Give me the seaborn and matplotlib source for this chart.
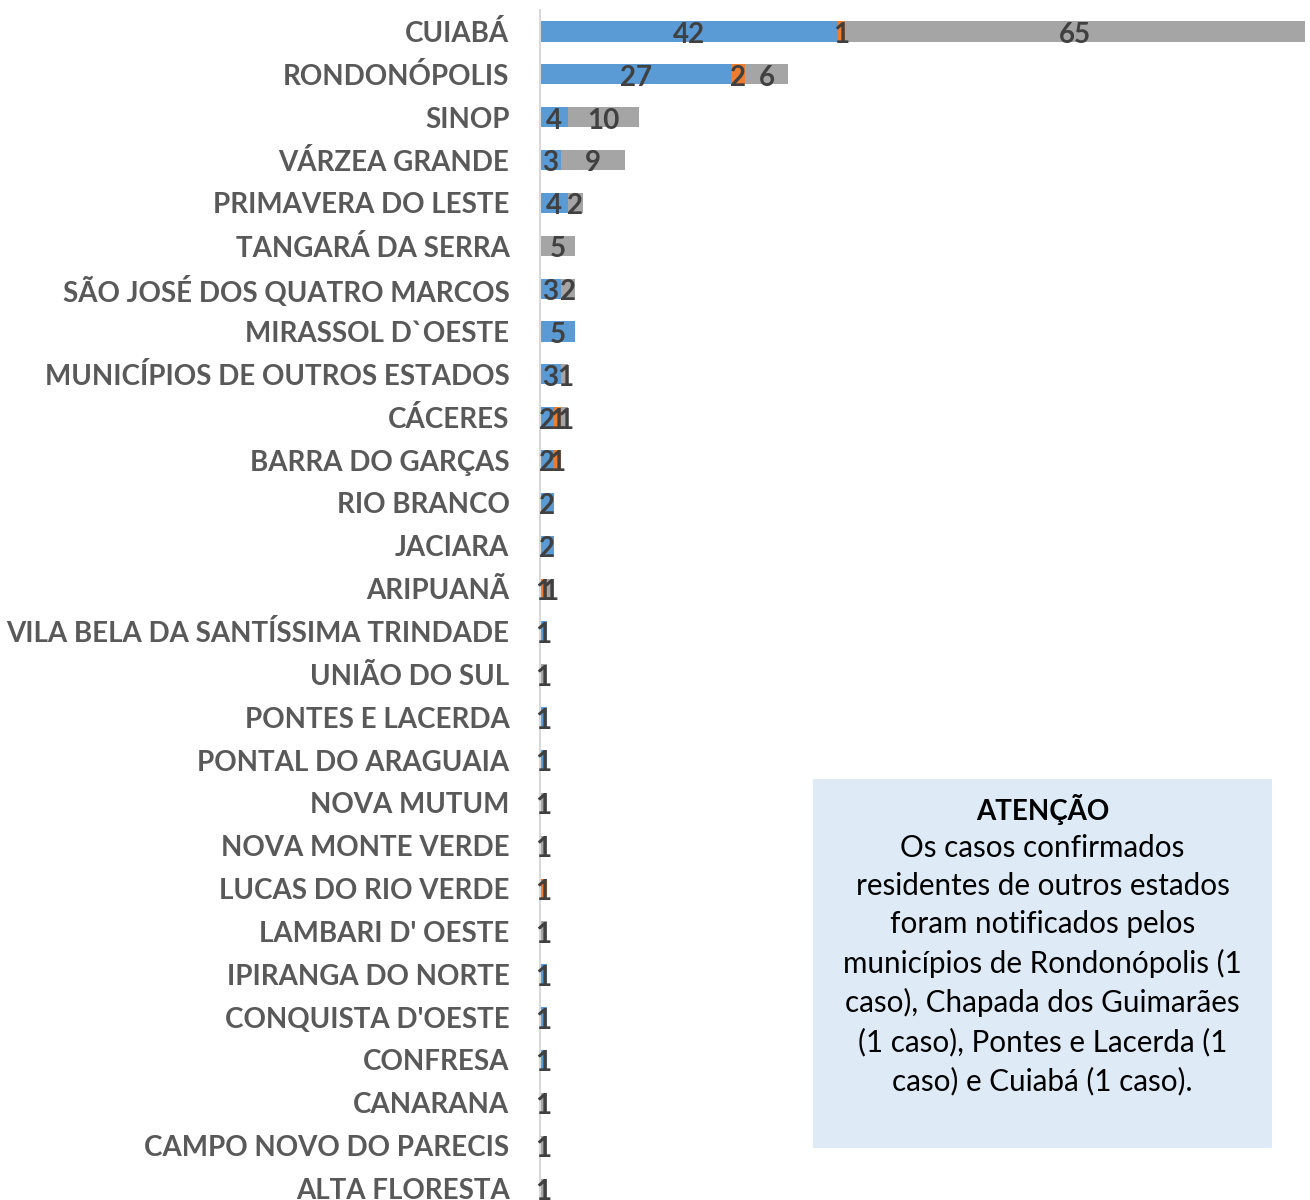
import numpy as np
import pandas as pd
import matplotlib
matplotlib.use("Agg")
import matplotlib.pyplot as plt
import seaborn as sns

municipios = [
    "CUIABÁ", "RONDONÓPOLIS", "SINOP", "VÁRZEA GRANDE", "PRIMAVERA DO LESTE",
    "TANGARÁ DA SERRA", "SÃO JOSÉ DOS QUATRO MARCOS", "MIRASSOL D`OESTE",
    "MUNICÍPIOS DE OUTROS ESTADOS", "CÁCERES", "BARRA DO GARÇAS", "RIO BRANCO",
    "JACIARA", "ARIPUANÃ", "VILA BELA DA SANTÍSSIMA TRINDADE", "UNIÃO DO SUL",
    "PONTES E LACERDA", "PONTAL DO ARAGUAIA", "NOVA MUTUM", "NOVA MONTE VERDE",
    "LUCAS DO RIO VERDE", "LAMBARI D' OESTE", "IPIRANGA DO NORTE",
    "CONQUISTA D'OESTE", "CONFRESA", "CANARANA", "CAMPO NOVO DO PARECIS",
    "ALTA FLORESTA",
]
azul = [42, 27, 4, 3, 4, 0, 3, 5, 3, 2, 2, 2, 2, 0, 1, 0, 1, 1, 0, 0, 0, 0, 1, 1, 1, 0, 0, 0]
laranja = [1, 2, 0, 0, 0, 0, 0, 0, 0, 1, 1, 0, 0, 1, 0, 0, 0, 0, 0, 0, 1, 0, 0, 0, 0, 0, 0, 0]
cinza = [65, 6, 10, 9, 2, 5, 2, 0, 1, 1, 0, 0, 0, 1, 0, 1, 0, 0, 1, 1, 0, 1, 0, 0, 0, 1, 1, 1]

nota_titulo = "ATENÇÃO"
nota_texto = ("Os casos confirmados\nresidentes de outros estados\nforam notificados pelos\n"
              "municípios de Rondonópolis (1\ncaso), Chapada dos Guimarães\n"
              "(1 caso), Pontes e Lacerda (1\ncaso) e Cuiabá (1 caso).")

cores = ["#5B9BD5", "#ED7D31", "#A5A5A5"]

sns.set_theme(style="white")
plt.rcParams["font.family"] = ["Lato", "DejaVu Sans"]

df = pd.DataFrame({"municipio": municipios, "azul": azul, "laranja": laranja, "cinza": cinza})
df["base_laranja"] = df["azul"]
df["base_cinza"] = df["azul"] + df["laranja"]

fig = plt.figure(figsize=(13.1, 12), dpi=100)
ax = fig.add_axes([540 / 1310, -10 / 1200, (1305 - 540) / 1310, 1200 / 1200])

series = [("azul", None), ("laranja", "base_laranja"), ("cinza", "base_cinza")]
for (col, base), cor in zip(series, cores):
    kw = {} if base is None else {"left": df[base].to_numpy()}
    sns.barplot(data=df, x=col, y="municipio", order=municipios, color=cor,
                width=0.47, orient="h", ax=ax, saturation=1, linewidth=0, **kw)

for cont, col in zip(ax.containers, ["azul", "laranja", "cinza"]):
    rotulos = [str(v) if v > 0 else "" for v in df[col]]
    anns = ax.bar_label(cont, labels=rotulos, label_type="center", fontsize=20,
                        fontweight="bold", color="#404040")
    for a in anns:
        a.xyann = (0, -2.5)

ax.set_xlim(0, 108)
ax.set_ylim(27.5, -0.5)
ax.set_xlabel("")
ax.set_ylabel("")
ax.set_xticks([])
ax.tick_params(axis="y", length=0, pad=22)
for lbl in ax.get_yticklabels():
    lbl.set_fontsize(20)
    lbl.set_fontweight("bold")
    lbl.set_color("#595959")
for s in ["top", "right", "bottom"]:
    ax.spines[s].set_visible(False)
ax.spines["left"].set_color("#D9D9D9")
ax.spines["left"].set_linewidth(1.5)

# caixa de aviso
caixa = fig.add_axes([813 / 1310, (1200 - 1148) / 1200, (1272 - 813) / 1310, (1148 - 779) / 1200])
caixa.set_facecolor("#DEEBF7")
caixa.set_xticks([])
caixa.set_yticks([])
for s in caixa.spines.values():
    s.set_visible(False)
caixa.text(0.5, 0.916, nota_titulo, ha="center", va="center", fontsize=20,
           fontweight="bold", color="black", transform=caixa.transAxes)
caixa.text(0.5, 0.497, nota_texto, ha="center", va="center", fontsize=21.3,
           color="black", linespacing=1.44, transform=caixa.transAxes)

fig.savefig("out.png", dpi=100)
